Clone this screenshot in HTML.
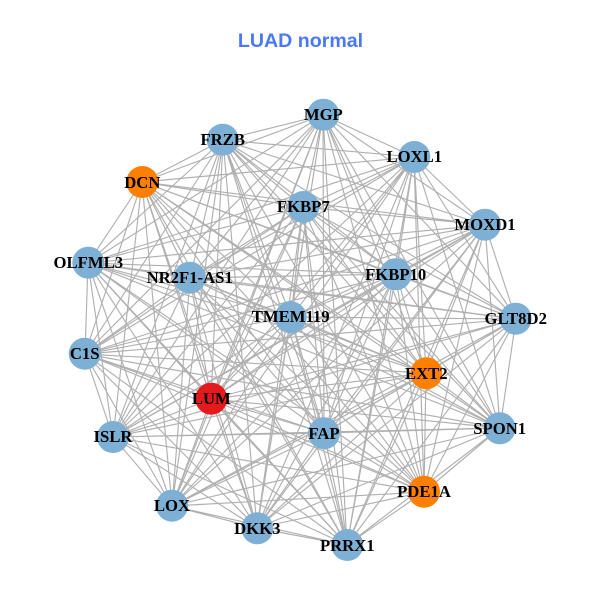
<!DOCTYPE html>
<html><head><meta charset="utf-8"><style>html,body{margin:0;padding:0;background:#fff}svg{display:block}</style></head><body>
<svg width="600" height="600" viewBox="0 0 600 600" xmlns="http://www.w3.org/2000/svg">
<rect width="600" height="600" fill="#fff"/>
<text x="300.5" y="47" text-anchor="middle" font-family="Liberation Sans, sans-serif" font-weight="bold" font-size="19.6" fill="#4a78f6">LUAD normal</text>
<g fill="none" stroke="#b0b0b0" stroke-width="1.15" stroke-linejoin="round">
<path d="M323 115L414 157L323 115L485 225L323 115L396 274L323 115L516 319L323 115L303 207L323 115L291 317L323 115L223 140L323 115L142 182L323 115L88 263L323 115L190 278L323 115L85 354L323 115L211 399L323 115L113 437L323 115L172 506L323 115L257 528L323 115L426 373L323 115L500 428L323 115L324 433L323 115L424 492L323 115L347 545"/>
<path d="M414 157L485 225L414 157L396 274L414 157L516 319L414 157L303 207L414 157L291 317L414 157L223 140L414 157L142 182L414 157L88 263L414 157L190 278L414 157L85 354L414 157L211 399L414 157L113 437L414 157L172 506L414 157L257 528L414 157L426 373L414 157L500 428L414 157L324 433L414 157L424 492L414 157L347 545"/>
<path d="M485 225L396 274L485 225L516 319L485 225L303 207L485 225L291 317L485 225L223 140L485 225L142 182L485 225L88 263L485 225L190 278L485 225L85 354L485 225L211 399L485 225L113 437L485 225L172 506L485 225L257 528L485 225L426 373L485 225L500 428L485 225L324 433L485 225L424 492L485 225L347 545"/>
<path d="M396 274L516 319L396 274L303 207L396 274L291 317L396 274L223 140L396 274L142 182L396 274L88 263L396 274L190 278L396 274L85 354L396 274L211 399L396 274L113 437L396 274L172 506L396 274L257 528L396 274L426 373L396 274L500 428L396 274L324 433L396 274L424 492L396 274L347 545"/>
<path d="M516 319L303 207L516 319L291 317L516 319L223 140L516 319L142 182L516 319L88 263L516 319L190 278L516 319L85 354L516 319L211 399L516 319L113 437L516 319L172 506L516 319L257 528L516 319L426 373L516 319L500 428L516 319L324 433L516 319L424 492L516 319L347 545"/>
<path d="M303 207L291 317L303 207L223 140L303 207L142 182L303 207L88 263L303 207L190 278L303 207L85 354L303 207L211 399L303 207L113 437L303 207L172 506L303 207L257 528L303 207L426 373L303 207L500 428L303 207L324 433L303 207L424 492L303 207L347 545"/>
<path d="M291 317L223 140L291 317L142 182L291 317L88 263L291 317L190 278L291 317L85 354L291 317L211 399L291 317L113 437L291 317L172 506L291 317L257 528L291 317L426 373L291 317L500 428L291 317L324 433L291 317L424 492L291 317L347 545"/>
<path d="M223 140L142 182L223 140L88 263L223 140L190 278L223 140L85 354L223 140L211 399L223 140L113 437L223 140L172 506L223 140L257 528L223 140L426 373L223 140L500 428L223 140L324 433L223 140L424 492L223 140L347 545"/>
<path d="M142 182L88 263L142 182L190 278L142 182L85 354L142 182L211 399L142 182L113 437L142 182L172 506L142 182L257 528L142 182L426 373L142 182L500 428L142 182L324 433L142 182L424 492L142 182L347 545"/>
<path d="M88 263L190 278L88 263L85 354L88 263L211 399L88 263L113 437L88 263L172 506L88 263L257 528L88 263L426 373L88 263L500 428L88 263L324 433L88 263L424 492L88 263L347 545"/>
<path d="M190 278L85 354L190 278L211 399L190 278L113 437L190 278L172 506L190 278L257 528L190 278L426 373L190 278L500 428L190 278L324 433L190 278L424 492L190 278L347 545"/>
<path d="M85 354L211 399L85 354L113 437L85 354L172 506L85 354L257 528L85 354L426 373L85 354L500 428L85 354L324 433L85 354L424 492L85 354L347 545"/>
<path d="M211 399L113 437L211 399L172 506L211 399L257 528L211 399L426 373L211 399L500 428L211 399L324 433L211 399L424 492L211 399L347 545"/>
<path d="M113 437L172 506L113 437L257 528L113 437L426 373L113 437L500 428L113 437L324 433L113 437L424 492L113 437L347 545"/>
<path d="M172 506L257 528L172 506L426 373L172 506L500 428L172 506L324 433L172 506L424 492L172 506L347 545"/>
<path d="M257 528L426 373L257 528L500 428L257 528L324 433L257 528L424 492L257 528L347 545"/>
<path d="M426 373L500 428L426 373L324 433L426 373L424 492L426 373L347 545"/>
<path d="M500 428L324 433L500 428L424 492L500 428L347 545"/>
<path d="M324 433L424 492L324 433L347 545"/>
<path d="M424 492L347 545"/>
</g>
<g fill="#7eb0d5">
<circle cx="323.3" cy="114.7" r="16"/>
<circle cx="414.3" cy="157" r="16"/>
<circle cx="485" cy="224.7" r="16"/>
<circle cx="395.7" cy="274.3" r="16"/>
<circle cx="515.7" cy="318.7" r="16"/>
<circle cx="303.3" cy="207" r="16"/>
<circle cx="290.7" cy="317.3" r="16"/>
<circle cx="222.7" cy="139.7" r="16"/>
<circle cx="88.3" cy="262.7" r="16"/>
<circle cx="189.7" cy="277.7" r="16"/>
<circle cx="84.7" cy="353.7" r="16"/>
<circle cx="113" cy="437" r="16"/>
<circle cx="172" cy="505.7" r="16"/>
<circle cx="257.3" cy="528.3" r="16"/>
<circle cx="499.7" cy="428.3" r="16"/>
<circle cx="324" cy="433.3" r="16"/>
<circle cx="347.3" cy="545" r="16"/>
</g>
<g fill="#ff7f00">
<circle cx="142.3" cy="182" r="16"/>
<circle cx="426.3" cy="373.3" r="16"/>
<circle cx="424" cy="491.7" r="16"/>
</g>
<circle cx="211.3" cy="398.7" r="16" fill="#e41a1c"/>
<g font-family="Liberation Serif, serif" font-weight="bold" font-size="16.7" fill="#000" text-anchor="middle">
<text x="323.3" y="120">MGP</text>
<text x="414.3" y="162">LOXL1</text>
<text x="485" y="230">MOXD1</text>
<text x="395.7" y="280">FKBP10</text>
<text x="515.7" y="324">GLT8D2</text>
<text x="303.3" y="212">FKBP7</text>
<text x="290.7" y="322">TMEM119</text>
<text x="222.7" y="145">FRZB</text>
<text x="142.3" y="188">DCN</text>
<text x="88.3" y="268">OLFML3</text>
<text x="189.7" y="283">NR2F1-AS1</text>
<text x="84.7" y="359">C1S</text>
<text x="211.3" y="404">LUM</text>
<text x="113" y="442">ISLR</text>
<text x="172" y="511">LOX</text>
<text x="257.3" y="534">DKK3</text>
<text x="426.3" y="379">EXT2</text>
<text x="499.7" y="434">SPON1</text>
<text x="324" y="439">FAP</text>
<text x="424" y="497">PDE1A</text>
<text x="347.3" y="551">PRRX1</text>
</g>
</svg>
</body></html>
